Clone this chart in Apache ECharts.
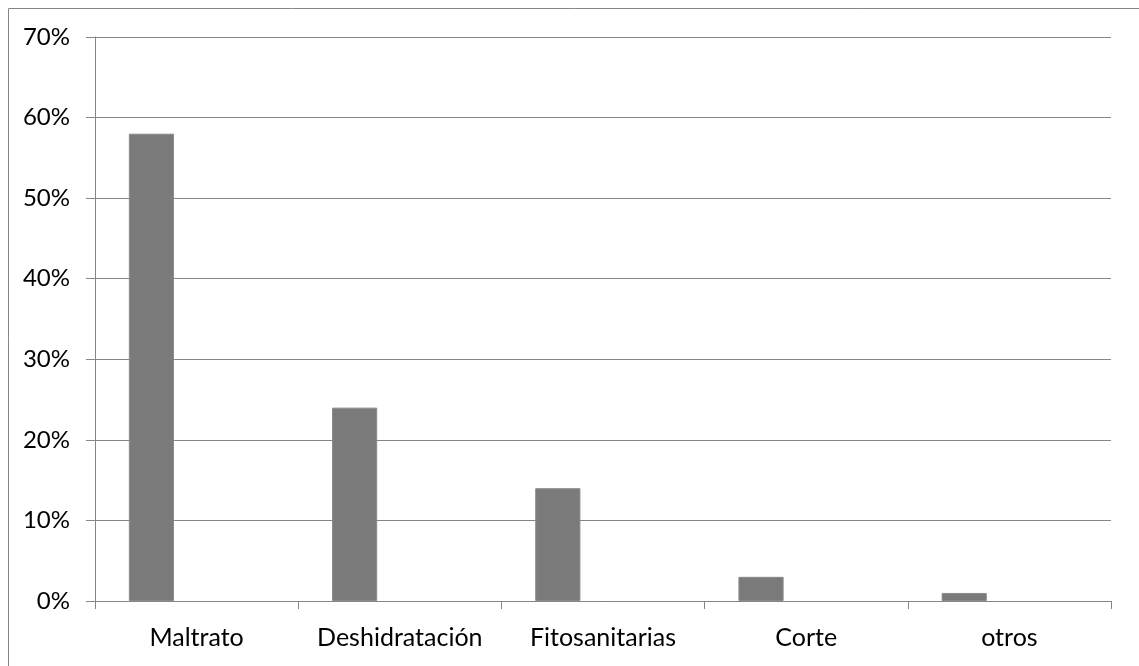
<!DOCTYPE html>
<html>
<head>
<meta charset="utf-8">
<script src="https://cdn.jsdelivr.net/npm/echarts@6/dist/echarts.min.js"></script>
<style>
html,body{margin:0;padding:0;background:#fff;}
#chart{width:1139px;height:666px;}
</style>
</head>
<body>
<div id="chart"></div>
<script>
const categories = ['Maltrato', 'Deshidratación', 'Fitosanitarias', 'Corte', 'otros'];
const values = [58, 24, 14, 3, 1];
const emptySeries2 = ['-', '-', '-', '-', '-'];
const emptySeries3 = ['-', '-', '-', '-', '-'];
const yTicks = [0, 10, 20, 30, 40, 50, 60, 70];

const chart = echarts.init(document.getElementById('chart'), null, {renderer: 'canvas'});
const font = 'Lato, "Open Sans", sans-serif';
chart.setOption({
  animation: false,
  backgroundColor: '#fff',
  graphic: [{
    type: 'rect',
    shape: {x: 8.5, y: 8.5, width: 1200, height: 800},
    style: {fill: 'none', stroke: '#868686', lineWidth: 1},
    silent: true
  }],
  grid: {left: 95, right: 28, top: 37, bottom: 65, containLabel: false},
  xAxis: {
    type: 'category',
    data: categories,
    axisLine: {show: true, lineStyle: {color: '#868686', width: 1}},
    axisTick: {show: true, interval: 0, length: 8, lineStyle: {color: '#868686'}},
    axisLabel: {interval: 0, hideOverlap: false, color: '#000', fontFamily: font, fontSize: 25, margin: 24},
    splitLine: {show: false}
  },
  yAxis: {
    type: 'value',
    min: yTicks[0],
    max: yTicks[yTicks.length - 1],
    interval: 10,
    axisLine: {show: true, lineStyle: {color: '#868686', width: 1}},
    axisTick: {show: true, length: 9, lineStyle: {color: '#868686'}},
    axisLabel: {color: '#000', fontFamily: font, fontSize: 24, margin: 25, formatter: '{value}%'},
    splitLine: {show: true, lineStyle: {color: '#868686', width: 1}}
  },
  series: [
    {type: 'bar', data: values, barGap: '0%', barCategoryGap: '33.3%',
     itemStyle: {color: '#7a7a7a', borderColor: '#8a8a8a', borderWidth: 1}},
    {type: 'bar', data: emptySeries2, barGap: '0%', barCategoryGap: '33.3%',
     itemStyle: {color: '#7a7a7a'}},
    {type: 'bar', data: emptySeries3, barGap: '0%', barCategoryGap: '33.3%',
     itemStyle: {color: '#7a7a7a'}}
  ]
});
</script>
</body>
</html>
